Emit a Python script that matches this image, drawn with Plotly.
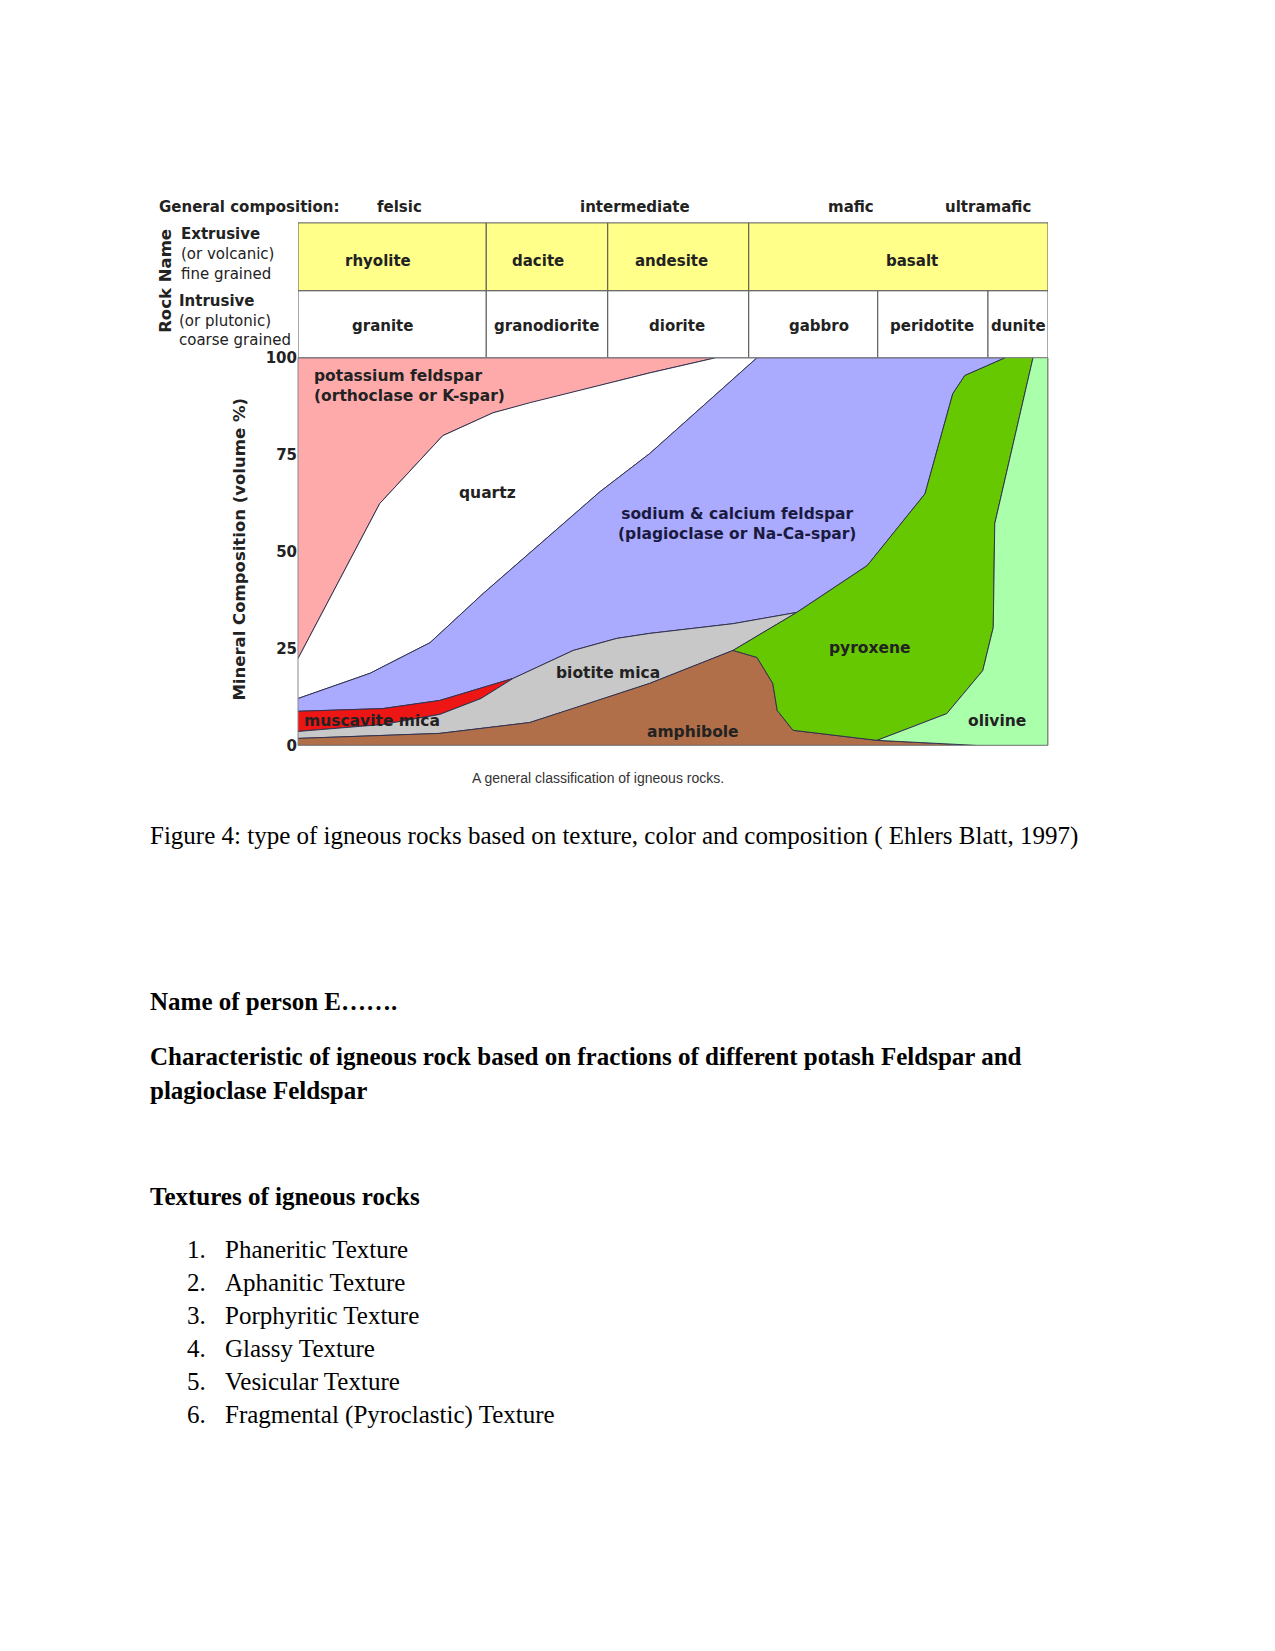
import plotly.graph_objects as go

W, H = 1275, 1651

# ---------------- data (composition index 0..100 felsic->ultramafic, volume % 0..100) -------------
yticks = [0, 25, 50, 75, 100]

kspar_quartz_x = [0, 10.9, 19.3, 26.0, 30.9, 41.2, 46.9, 55.7]
kspar_quartz_y = [22.4, 62.4, 79.9, 85.8, 88.4, 93.3, 96.1, 100]
quartz_plag_x = [0, 9.6, 17.6, 24.7, 40.3, 46.9, 61.2]
quartz_plag_y = [12.1, 18.6, 26.5, 39.2, 65.5, 75.3, 100]
plag_musc_x = [0, 11.3, 18.9, 28.7]
plag_musc_y = [8.8, 9.5, 11.6, 17.3]
musc_biot_x = [0, 11.3, 18.9, 24.4, 28.7]
musc_biot_y = [3.6, 5.4, 8.0, 12.1, 17.3]
plag_biot_x = [28.7, 36.7, 42.5, 46.9, 58.0, 66.5]
plag_biot_y = [17.3, 24.5, 27.6, 28.9, 31.4, 34.3]
plag_pyx_x = [66.5, 75.9, 83.6, 87.3, 88.9, 94.3]
plag_pyx_y = [34.3, 46.4, 64.9, 90.7, 95.4, 100]
biot_pyx_x = [66.5, 58.0]
biot_pyx_y = [34.3, 24.5]
biot_amph_x = [0, 18.9, 30.9, 36.7, 46.9, 58.0]
biot_amph_y = [1.8, 3.1, 5.9, 9.5, 16.0, 24.5]
amph_pyx_x = [58.0, 61.2, 63.3, 63.9, 66.0, 77.2]
amph_pyx_y = [24.5, 22.7, 16.0, 9.0, 3.9, 1.3]
amph_oliv_x = [77.2, 90.5]
amph_oliv_y = [1.3, 0]
pyx_oliv_x = [77.2, 86.5, 91.3, 92.7, 92.9, 98.0]
pyx_oliv_y = [1.3, 8.2, 19.3, 30.4, 57.2, 100]

extrusive_names = ["rhyolite", "dacite", "andesite", "basalt"]
extrusive_spans = [(0, 25.1), (25.1, 41.3), (41.3, 60.1), (60.1, 100)]
extrusive_label_x = [10.7, 32.0, 49.8, 81.8]
intrusive_names = ["granite", "granodiorite", "diorite", "gabbro", "peridotite", "dunite"]
intrusive_spans = [(0, 25.1), (25.1, 41.3), (41.3, 60.1), (60.1, 77.3), (77.3, 92.0), (92.0, 100)]
intrusive_label_x = [11.2, 33.1, 50.5, 69.5, 84.5, 96.0]

composition_names = ["felsic", "intermediate", "mafic", "ultramafic"]
composition_px = [399, 635, 851, 988]

mineral_labels = ["potassium feldspar<br>(orthoclase or K-spar)", "quartz",
                  "sodium & calcium feldspar<br>(plagioclase or Na-Ca-spar)",
                  "biotite mica", "muscavite mica", "amphibole", "pyroxene", "olivine"]
mineral_label_x = [1.9, 25.3, 58.5, 41.3, 9.9, 52.7, 76.3, 93.2]
mineral_label_y = [92.8, 65.2, 57.2, 18.8, 6.4, 3.4, 25.0, 6.4]

texture_list = ["Phaneritic Texture", "Aphanitic Texture", "Porphyritic Texture",
                "Glassy Texture", "Vesicular Texture", "Fragmental (Pyroclastic) Texture"]

# ---------------- layout geometry (pixels) ----------------
PL, PR, PT, PB = 298, 1048, 357, 745
ROW1_TOP, ROW_MID = 222, 290


def X(px):
    return px / W


def Y(py):
    # small empirical correction for the page capture
    return 1 - (py / 0.99 - 8) / H


def rev(a):
    return list(a)[::-1]


fig = go.Figure()

poly = [
    ("K-spar", [0] + rev(kspar_quartz_x), [100] + rev(kspar_quartz_y), "#FFAAAA"),
    ("quartz", kspar_quartz_x + rev(quartz_plag_x), kspar_quartz_y + rev(quartz_plag_y), "#FFFFFF"),
    ("plagioclase", quartz_plag_x + rev(plag_pyx_x) + rev(plag_biot_x) + rev(plag_musc_x),
     quartz_plag_y + rev(plag_pyx_y) + rev(plag_biot_y) + rev(plag_musc_y), "#AAAAFF"),
    ("muscovite", plag_musc_x + rev(musc_biot_x), plag_musc_y + rev(musc_biot_y), "#EE1515"),
    ("biotite", musc_biot_x + plag_biot_x + biot_pyx_x + rev(biot_amph_x),
     musc_biot_y + plag_biot_y + biot_pyx_y + rev(biot_amph_y), "#C8C8C8"),
    ("amphibole", biot_amph_x + amph_pyx_x + amph_oliv_x + [0],
     biot_amph_y + amph_pyx_y + amph_oliv_y + [0], "#B06F48"),
    ("pyroxene", rev(plag_pyx_x) + biot_pyx_x + amph_pyx_x + pyx_oliv_x,
     rev(plag_pyx_y) + biot_pyx_y + amph_pyx_y + pyx_oliv_y, "#66C800"),
    ("olivine", rev(pyx_oliv_x) + amph_oliv_x + [100, 100],
     rev(pyx_oliv_y) + amph_oliv_y + [0, 100], "#AAFFAA"),
]
for name, xs, ys, col in poly:
    fig.add_trace(go.Scatter(x=xs, y=ys, fill="toself", fillcolor=col, mode="lines",
                             line=dict(color="#33334f", width=1), name=name,
                             hoverinfo="name", showlegend=False))

FONT = "DejaVu Sans"
ann = []


def add(x, y, text, xref="paper", yref="paper", xanchor="center", size=15, color="#222222",
        bold=False, family=FONT, angle=0, align="center"):
    ann.append(dict(x=x, y=y, xref=xref, yref=yref, text=text, showarrow=False,
                    xanchor=xanchor, yanchor="middle", align=align, textangle=angle,
                    font=dict(family=family, size=size, color=color,
                              weight="bold" if bold else "normal")))


for t, x, y in zip(mineral_labels, mineral_label_x, mineral_label_y):
    left = t.startswith("potassium")
    col = "#1a1a40" if t.startswith("sodium") else "#222222"
    add(x, y, t, xref="x", yref="y", xanchor="left" if left else "center",
        align="left" if left else "center", size=15.5, color=col, bold=True)

shapes = []
# table rows
for spans, names, lx, top, bot, fill, ty in [
        (extrusive_spans, extrusive_names, extrusive_label_x, ROW1_TOP, ROW_MID, "#FFFF8A", 260),
        (intrusive_spans, intrusive_names, intrusive_label_x, ROW_MID, PT, "#FFFFFF", 325)]:
    for (a, b), n, x in zip(spans, names, lx):
        shapes.append(dict(type="rect", xref="x", yref="paper", x0=a, x1=b, y0=Y(bot), y1=Y(top),
                           fillcolor=fill, line=dict(color="#555555", width=1), layer="below"))
        add(x, Y(ty), n, xref="x", size=15, bold=True)

# plot frame
shapes.append(dict(type="rect", xref="paper", yref="paper", x0=X(PL), x1=X(PR), y0=Y(PB), y1=Y(PT),
                   line=dict(color="#888888", width=1), fillcolor="rgba(0,0,0,0)", layer="above"))

# header
add(X(157), Y(206), "General composition:", xanchor="left", bold=True)
for n, px in zip(composition_names, composition_px):
    add(X(px), Y(206), n, bold=True)

# row labels
row_lines = [("<b>Extrusive</b>", 179, 233), ("(or volcanic)", 179, 253), ("fine grained", 179, 273),
             ("<b>Intrusive</b>", 177, 300), ("(or plutonic)", 177, 320), ("coarse grained", 177, 339)]
for t, px, py in row_lines:
    add(X(px), Y(py), t, xanchor="left")
add(X(166), Y(280), "Rock Name", angle=-90, bold=True, size=16.5)
add(X(240), Y(549), "Mineral Composition (volume %)", angle=-90, bold=True, size=16.5)

# captions / document text
add(X(598), Y(778), "A general classification of igneous rocks.", size=14, color="#333",
    family="Liberation Sans")
SERIF = "Liberation Serif"
doc = [("Figure 4: type of igneous rocks based on texture, color and composition ( Ehlers Blatt, 1997)", 836, False),
       ("Name of person E…….", 1001, True),
       ("Characteristic of igneous rock based on fractions of different potash Feldspar and", 1056, True),
       ("plagioclase Feldspar", 1090, True),
       ("Textures of igneous rocks", 1197, True)]
for t, py, bold in doc:
    add(X(148), Y(py), t, xanchor="left", size=25, color="#000", bold=bold, family=SERIF)
for i, t in enumerate(texture_list):
    py = 1250 + i * 33
    add(X(185), Y(py), f"{i + 1}.", xanchor="left", size=25, color="#000", family=SERIF)
    add(X(223), Y(py), t, xanchor="left", size=25, color="#000", family=SERIF)

fig.update_layout(
    width=W, height=H, margin=dict(l=0, r=0, t=0, b=0),
    paper_bgcolor="white", plot_bgcolor="white", showlegend=False,
    xaxis=dict(domain=[X(PL), X(PR)], range=[0, 100], visible=False, fixedrange=True),
    yaxis=dict(domain=[Y(PB), Y(PT)], range=[0, 100], tickvals=yticks, showgrid=False, zeroline=False,
               showline=False, ticks="", fixedrange=True,
               tickfont=dict(family=FONT, size=15, color="#222", weight="bold")),
    shapes=shapes, annotations=ann,
)

fig.write_html("out.html")
